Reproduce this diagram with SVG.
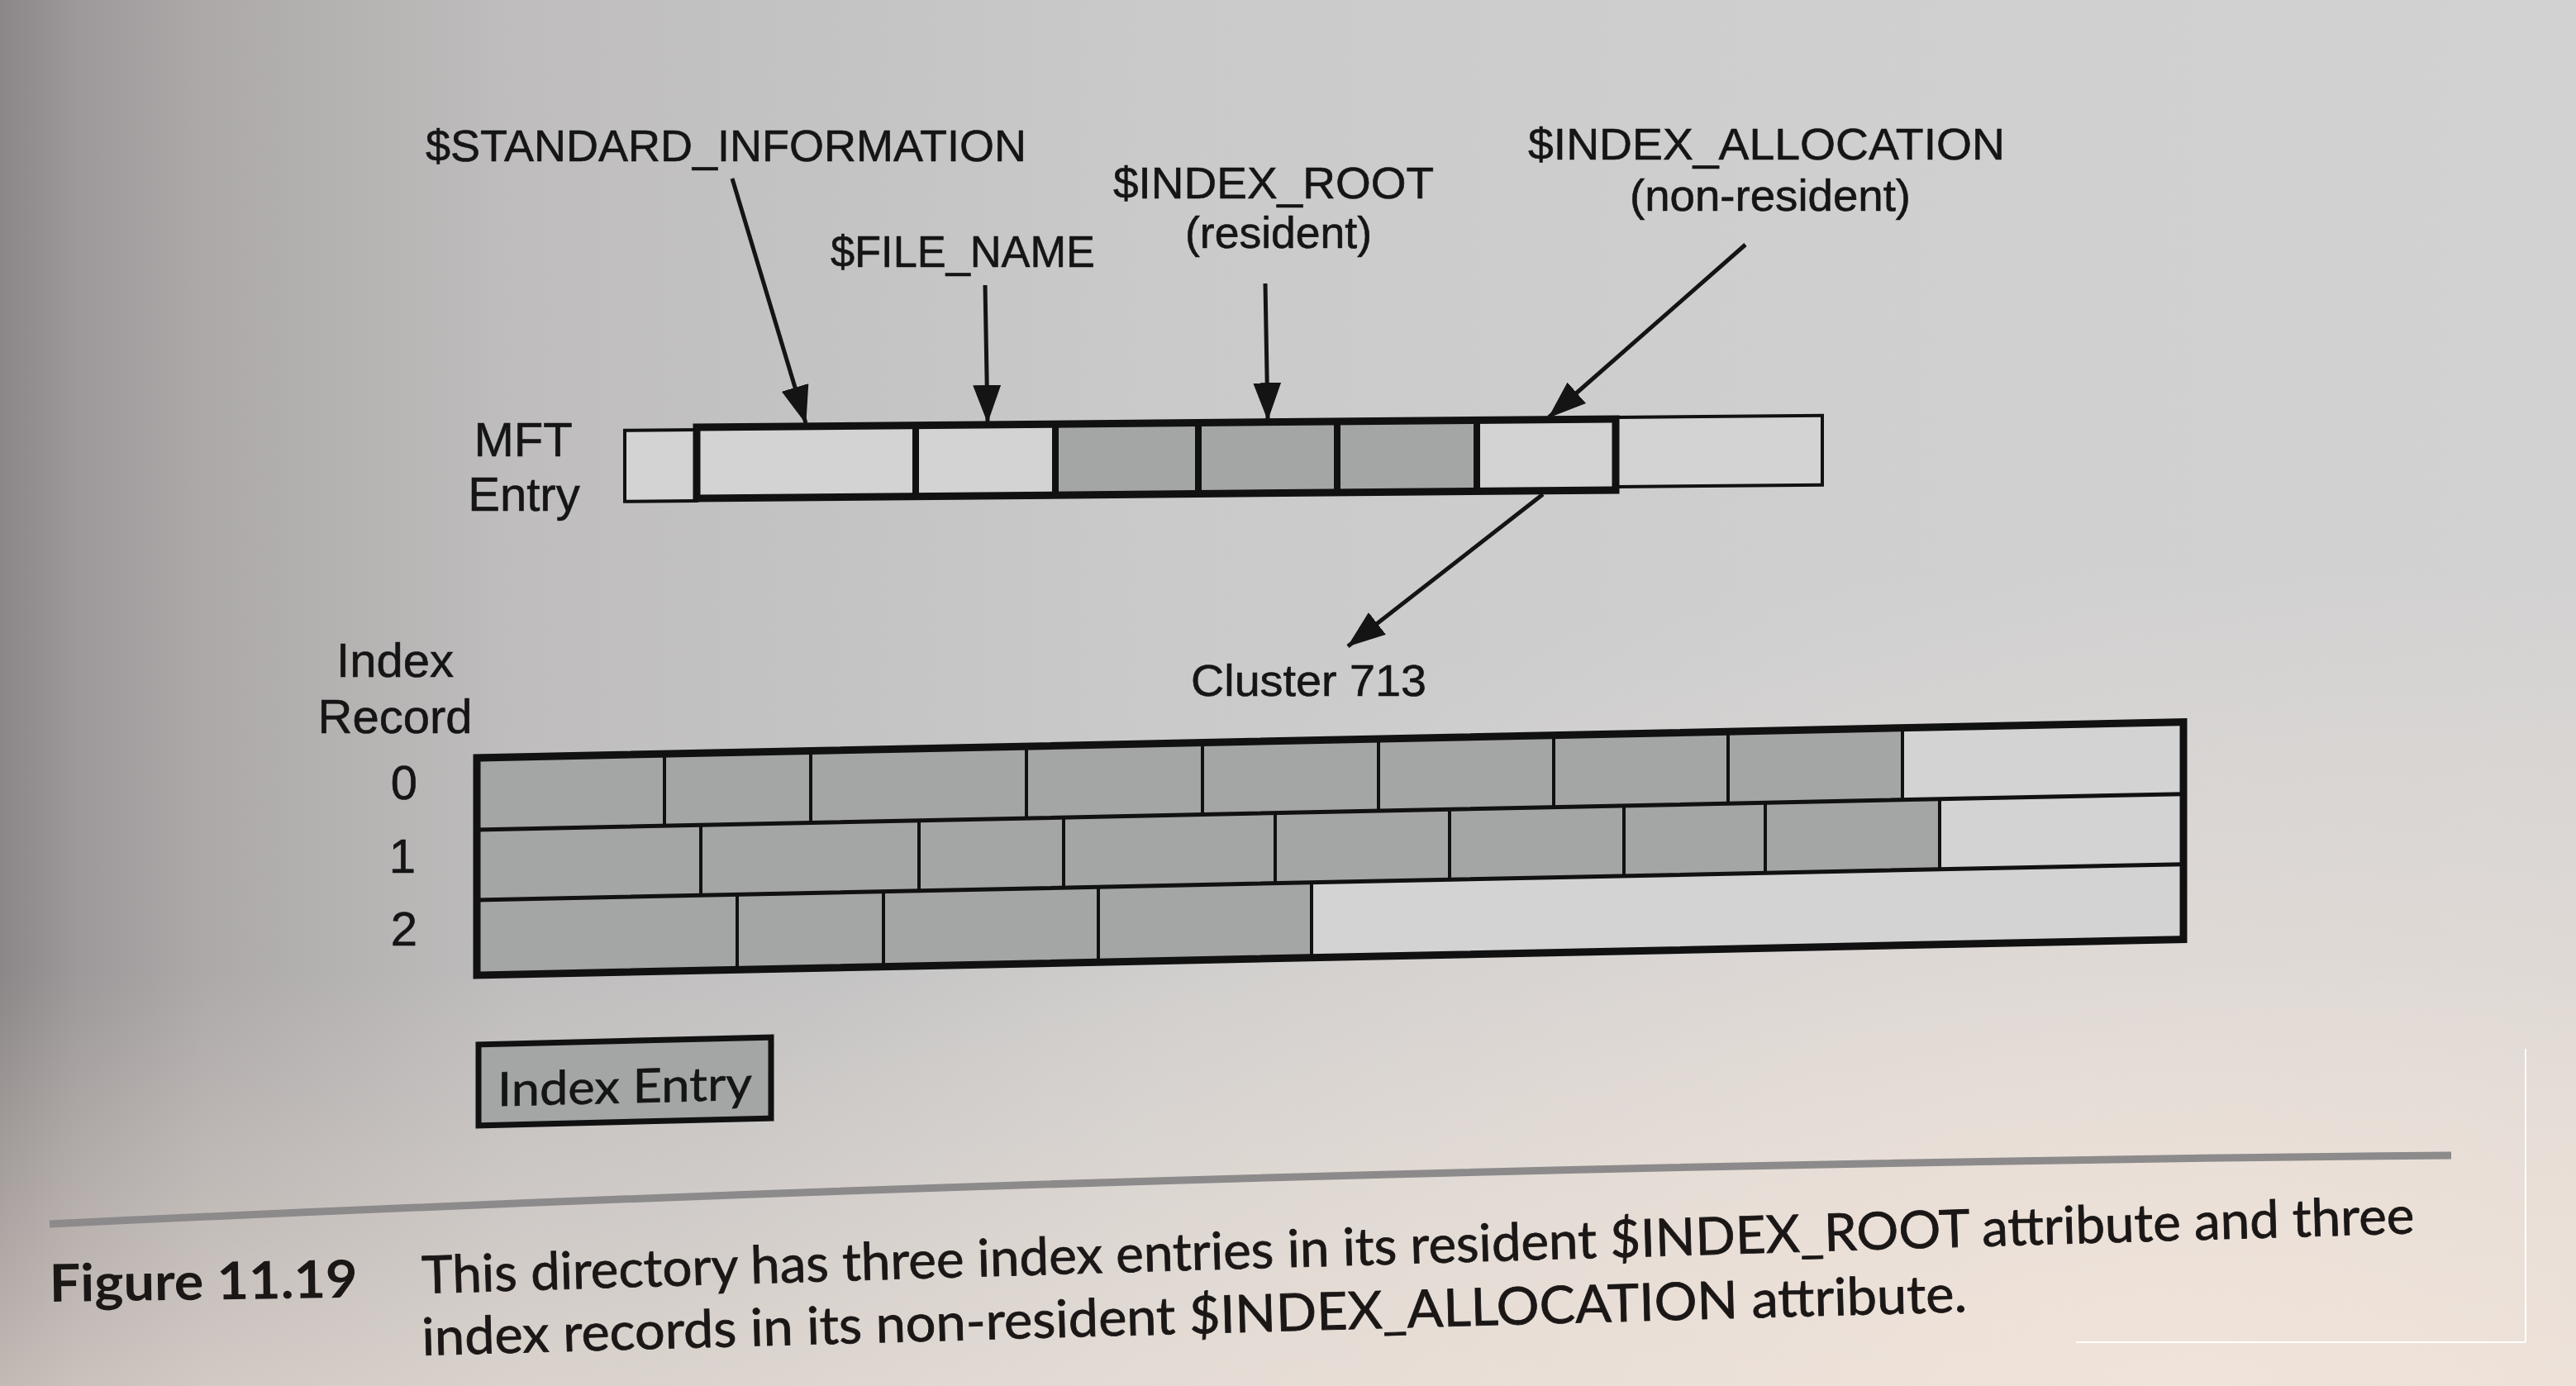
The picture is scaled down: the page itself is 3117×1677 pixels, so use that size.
<svg xmlns="http://www.w3.org/2000/svg" width="3117" height="1677" viewBox="0 0 3117 1677">
<defs>
  <linearGradient id="bgH" x1="0" y1="0" x2="1" y2="0">
    <stop offset="0" stop-color="#8b8687"/>
    <stop offset="0.03" stop-color="#9d9899"/>
    <stop offset="0.08" stop-color="#ada9a9"/>
    <stop offset="0.2" stop-color="#bfbdbd"/>
    <stop offset="0.45" stop-color="#cacaca"/>
    <stop offset="0.7" stop-color="#cfcfd0"/>
    <stop offset="1" stop-color="#d3d2d2"/>
  </linearGradient>
  <linearGradient id="bgV" x1="0" y1="0" x2="0" y2="1">
    <stop offset="0.7" stop-color="#efe3d9" stop-opacity="0"/>
    <stop offset="1" stop-color="#efe3d9" stop-opacity="0.55"/>
  </linearGradient>
  <radialGradient id="bgR" cx="0.85" cy="1" r="0.6">
    <stop offset="0" stop-color="#f3e5da" stop-opacity="0.85"/>
    <stop offset="1" stop-color="#f3e5da" stop-opacity="0"/>
  </radialGradient>
  <marker id="ah" markerUnits="userSpaceOnUse" markerWidth="46" markerHeight="34" refX="45" refY="17" orient="auto">
    <path d="M0,0 L46,17 L0,34 Z" fill="#141414"/>
  </marker>
  <style>
    .lbl { font-family: "Liberation Sans", Arial, sans-serif; font-size: 54px; fill: #151515; stroke: #151515; stroke-width: 0.6; }
    .side { font-family: "Liberation Sans", Arial, sans-serif; font-size: 58px; fill: #151515; stroke: #151515; stroke-width: 0.6; text-anchor: middle; }
    .cap { font-family: Lato, "Open Sans", sans-serif; font-size: 63px; fill: #1a1716; stroke: #1a1716; stroke-width: 0.8; }
    .capb { font-family: Lato, "Open Sans", sans-serif; font-size: 63px; font-weight: bold; fill: #1a1716; }
    .shade { fill: #a4a5a5; }
    .light { fill: #d3d3d3; }
    .thick { fill: none; stroke: #111; stroke-width: 9; }
    .thin { fill: none; stroke: #111; stroke-width: 4; }
    .mid { fill: none; stroke: #111; stroke-width: 5; }
    .div7 { fill: none; stroke: #111; stroke-width: 8; }
    .arrow { fill: none; stroke: #141414; stroke-width: 5; marker-end: url(#ah); }
  </style>
</defs>

<g id="background">
  <rect x="0" y="0" width="3117" height="1677" fill="url(#bgH)"/>
  <rect x="0" y="0" width="3117" height="1677" fill="url(#bgV)"/>
  <rect x="0" y="0" width="3117" height="1677" fill="url(#bgR)"/>
</g>

<g id="labels-top">
  <text class="lbl" x="515" y="195" textLength="727" lengthAdjust="spacingAndGlyphs">$STANDARD_INFORMATION</text>
  <text class="lbl" x="1005" y="323" textLength="320" lengthAdjust="spacingAndGlyphs">$FILE_NAME</text>
  <text class="lbl" x="1347" y="240" textLength="388" lengthAdjust="spacingAndGlyphs">$INDEX_ROOT</text>
  <text class="lbl" x="1434" y="300" textLength="226" lengthAdjust="spacingAndGlyphs">(resident)</text>
  <text class="lbl" x="1849" y="193" textLength="577" lengthAdjust="spacingAndGlyphs">$INDEX_ALLOCATION</text>
  <text class="lbl" x="1972" y="255" textLength="340" lengthAdjust="spacingAndGlyphs">(non-resident)</text>
</g>

<g id="mft-entry">
  <text class="side" x="633" y="552">MFT</text>
  <text class="side" x="634" y="618">Entry</text>
  <g transform="matrix(1 -0.009 0 1 0 7.59)">
    <rect class="light" x="756" y="520" width="87" height="86"/>
    <rect class="thin" x="756" y="520" width="87" height="86"/>
    <rect class="light" x="1955" y="515" width="250" height="84"/>
    <rect class="thin" x="1955" y="515" width="250" height="84"/>
    <rect class="light" x="843" y="517" width="434" height="86"/>
    <rect class="shade" x="1277" y="517" width="510" height="86"/>
    <rect class="light" x="1787" y="517" width="168" height="86"/>
    <line class="div7" x1="1108" y1="517" x2="1108" y2="603"/>
    <line class="div7" x1="1277" y1="517" x2="1277" y2="603"/>
    <line class="div7" x1="1450" y1="517" x2="1450" y2="603"/>
    <line class="div7" x1="1618" y1="517" x2="1618" y2="603"/>
    <line class="div7" x1="1787" y1="517" x2="1787" y2="603"/>
    <rect class="thick" x="843" y="517" width="1112" height="86"/>
  </g>
</g>

<g id="cluster-label">
  <text class="lbl" x="1441" y="842" textLength="285" lengthAdjust="spacingAndGlyphs">Cluster 713</text>
</g>

<g id="index-record">
  <text class="side" x="478" y="819">Index</text>
  <text class="side" x="478" y="887">Record</text>
  <text class="side" x="489" y="967">0</text>
  <text class="side" x="487" y="1056">1</text>
  <text class="side" x="489" y="1144">2</text>
  <g transform="matrix(1 -0.021 0 1 0 12.12)">
    <rect class="shade" x="577" y="917" width="1725" height="87"/>
    <rect class="light" x="2302" y="917" width="340" height="87"/>
    <rect class="shade" x="577" y="1004" width="1770" height="85"/>
    <rect class="light" x="2347" y="1004" width="295" height="85"/>
    <rect class="shade" x="577" y="1089" width="1010" height="91"/>
    <rect class="light" x="1587" y="1089" width="1055" height="91"/>
    <path class="thin" d="M804,917V1004 M981,917V1004 M1242,917V1004 M1455,917V1004 M1668,917V1004 M1880,917V1004 M2091,917V1004 M2302,917V1004"/>
    <path class="thin" d="M848,1004V1089 M1112,1004V1089 M1287,1004V1089 M1543,1004V1089 M1754,1004V1089 M1965,1004V1089 M2136,1004V1089 M2347,1004V1089"/>
    <path class="thin" d="M892,1089V1180 M1069,1089V1180 M1329,1089V1180 M1587,1089V1180"/>
    <path class="mid" d="M577,1004H2642 M577,1089H2642"/>
    <rect class="thick" x="577" y="917" width="2065" height="263"/>
  </g>
</g>

<g id="index-entry-legend" transform="matrix(1 -0.025 0 1 0 14.4)">
  <rect class="shade" x="579" y="1264" width="354" height="98"/>
  <rect fill="none" stroke="#111" stroke-width="7" x="579" y="1264" width="354" height="98"/>
  <text x="602" y="1339" font-family="Lato, 'Open Sans', sans-serif" font-size="57" fill="#151515" stroke="#151515" stroke-width="0.6" textLength="308" lengthAdjust="spacingAndGlyphs">Index Entry</text>
</g>

<g id="connectors">
  <line class="arrow" x1="886" y1="216" x2="975" y2="512"/>
  <line class="arrow" x1="1192" y1="345" x2="1195" y2="511"/>
  <line class="arrow" x1="1531" y1="343" x2="1534" y2="508"/>
  <line class="arrow" x1="2112" y1="296" x2="1874" y2="505"/>
  <line class="arrow" x1="1867" y1="598" x2="1631" y2="782"/>
</g>

<g id="caption">
  <path d="M60,1481 Q1500,1412 2966,1398" fill="none" stroke="#8c8a8a" stroke-width="9"/>
  <text class="capb" x="60" y="1575" transform="rotate(-0.8 60 1575)" textLength="373" lengthAdjust="spacingAndGlyphs">Figure 11.19</text>
  <text class="cap" x="511" y="1565" transform="rotate(-1.73 511 1565)" textLength="2412" lengthAdjust="spacingAndGlyphs">This directory has three index entries in its resident $INDEX_ROOT attribute and three</text>
  <text class="cap" x="511" y="1640" transform="rotate(-1.62 511 1640)" textLength="1870" lengthAdjust="spacingAndGlyphs">index records in its non-resident $INDEX_ALLOCATION attribute.</text>
</g>

<g id="page-edge">
  <line x1="3056" y1="1269" x2="3056" y2="1624" stroke="#ffffff" stroke-width="2"/>
  <line x1="2512" y1="1624" x2="3056" y2="1624" stroke="#ffffff" stroke-width="2"/>
</g>
</svg>
